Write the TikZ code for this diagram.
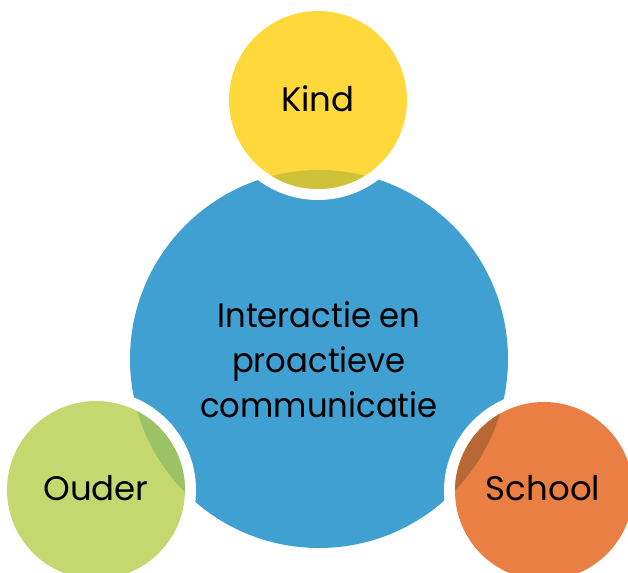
\documentclass[tikz,border=0pt]{standalone}
\usepackage{fontspec}
\setmainfont{Poppins}
\newfontfamily\narrowfont[FakeStretch=0.95]{Poppins}
\definecolor{cblue}{RGB}{65,160,210}
\definecolor{cyellow}{RGB}{255,217,60}
\definecolor{cyellowdk}{RGB}{206,194,58}
\definecolor{cgreen}{RGB}{196,216,111}
\definecolor{cgreendk}{RGB}{155,194,100}
\definecolor{corange}{RGB}{233,127,66}
\definecolor{corangedk}{RGB}{184,104,53}
\begin{document}
\begin{tikzpicture}[x=1pt,y=1pt,
  lbl/.style={text=black,font=\fontsize{34}{45}\selectfont,align=center,inner sep=0pt}]
\useasboundingbox (0,0) rectangle (628,-572);
% centre circle
\fill[cblue] (319,-359) circle (189);
\node[lbl,font=\narrowfont\fontsize{34}{45}\selectfont] (centre) at (319,-360) {Interactie en\\proactieve\\communicatie};
% small circles
\foreach \cx/\cy/\col/\dk in {318/-100/cyellow/cyellowdk, 96/-490/cgreen/cgreendk, 544/-491/corange/corangedk}{
  \fill[white] (\cx,\cy) circle (100);
  \fill[\col] (\cx,\cy) circle (89);
  \begin{scope}
    \clip (\cx,\cy) circle (89);
    \fill[\dk] (319,-359) circle (189);
  \end{scope}
}
\node[lbl] (kind) at (318,-99) {Kind};
\node[lbl] (ouder) at (96,-488) {Ouder};
\node[lbl] (school) at (543,-488) {School};
\end{tikzpicture}
\end{document}
